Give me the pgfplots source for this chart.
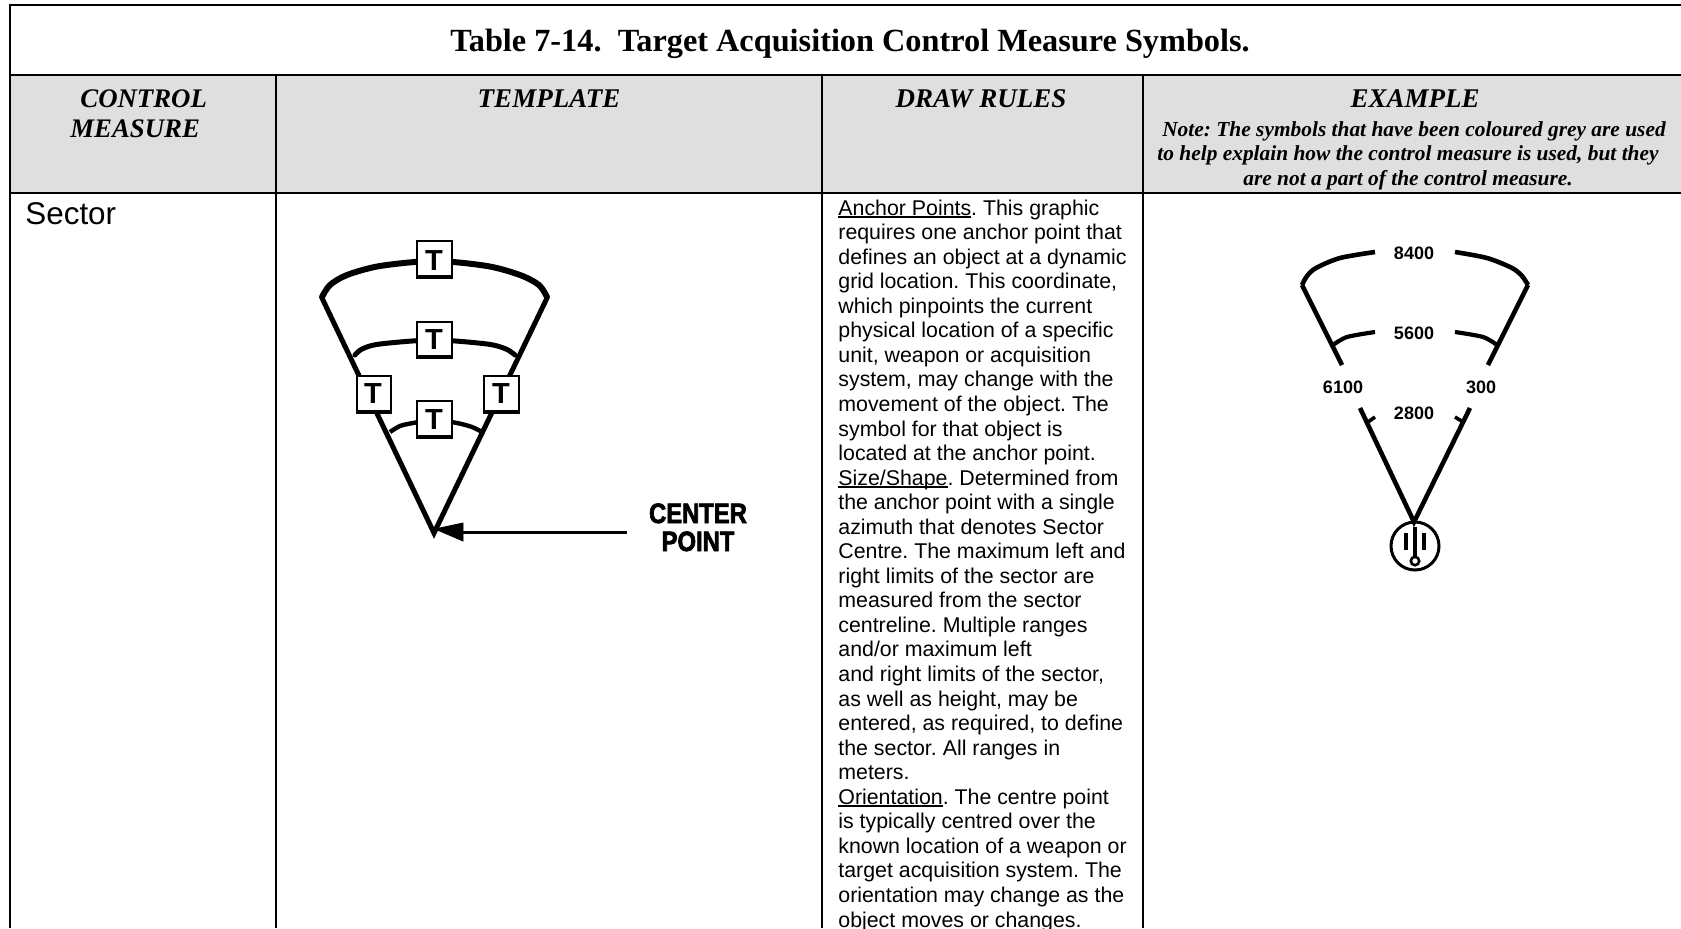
\documentclass[border=0pt]{standalone}
\usepackage{fontspec}
\usepackage{pgfplots}
\pgfplotsset{compat=1.18}
\setmainfont{Liberation Sans}
\newfontfamily\serifb[UprightFont={* Bold}]{Liberation Serif}
\newfontfamily\serifbi[UprightFont={* Bold Italic}]{Liberation Serif}
\newfontfamily\heavyf[UprightFont={* Bold},UprightFeatures={FakeBold=2.5,FakeStretch=0.85}]{Liberation Sans}
\definecolor{hdr}{HTML}{DFDFDF}
\newcommand\ul[1]{\leavevmode\setbox0\hbox{#1}\rlap{\rule[-1.3pt]{\wd0}{0.8pt}}\box0}
\pgfplotsset{
 tl/.style={black,line width=1pt,no marks,forget plot},
 s1/.style={black,line width=3pt,no marks,smooth,forget plot,line cap=round},
 s2/.style={black,line width=2.5pt,no marks,forget plot},
 s3/.style={black,line width=2.3pt,no marks,forget plot},
 tb/.style={black,line width=1.4pt,fill=white,no marks,forget plot},
 ts/.style={black,line width=2pt,no marks,forget plot},
}
\begin{document}
\frenchspacing
\begin{tikzpicture}
\path[use as bounding box,clip] (0,0) rectangle (840.5pt,464pt);
\begin{axis}[at={(0,0)},anchor=south west,width=840.5pt,height=464pt,scale only axis,
  xmin=0,xmax=1681,ymin=0,ymax=928,y dir=reverse,hide axis,enlargelimits=false,clip=false]
% header fill
\addplot[fill=hdr,draw=none,no marks,forget plot] coordinates {(10,75) (1681,75) (1681,193) (10,193)} --cycle;
% table rules
\addplot[tl] coordinates {(9,5) (1681,5)};
\addplot[tl] coordinates {(10,4) (10,928)};
\addplot[tl] coordinates {(10,75) (1681,75)};
\addplot[tl] coordinates {(10,193) (1681,193)};
\addplot[tl] coordinates {(276,75) (276,928)};
\addplot[tl] coordinates {(822,75) (822,928)};
\addplot[tl] coordinates {(1143,75) (1143,928)};
% template sector
\addplot[s1] coordinates {(322,297) (330,285) (347,275) (380,266) (434,261) (487,266) (520,275) (539,285) (547,297)};
\addplot[s2] coordinates {(322,298) (434,533) (547,298)};
\addplot[s1,line width=2.5pt] coordinates {(355,355) (362,349) (380,344) (434,340) (487,344) (506,349) (515,355)};
\addplot[s1,line width=2.2pt,line cap=butt] coordinates {(390,432) (400,426) (413,423) (434,420) (457,423) (472,427) (482,432)};
% T boxes
\addplot[tb] coordinates {(417,241) (452,241) (452,277) (417,277)} --cycle;
\addplot[ts] coordinates {(416,277) (453,277)};
\addplot[tb] coordinates {(417,322) (452,322) (452,357) (417,357)} --cycle;
\addplot[ts] coordinates {(416,357) (453,357)};
\addplot[tb] coordinates {(417,401) (452,401) (452,437) (417,437)} --cycle;
\addplot[ts] coordinates {(416,437) (453,437)};
\addplot[tb] coordinates {(357,376) (391,376) (391,412) (357,412)} --cycle;
\addplot[ts] coordinates {(356,412) (392,412)};
\addplot[tb] coordinates {(484,376) (519,376) (519,412) (484,412)} --cycle;
\addplot[ts] coordinates {(483,412) (520,412)};
\node[anchor=base,font=\bfseries\fontsize{14.5}{14.5}\selectfont] at (axis cs:434,270) {T};
\node[anchor=base,font=\bfseries\fontsize{14.5}{14.5}\selectfont] at (axis cs:434,349) {T};
\node[anchor=base,font=\bfseries\fontsize{14.5}{14.5}\selectfont] at (axis cs:434,429) {T};
\node[anchor=base,font=\bfseries\fontsize{14.5}{14.5}\selectfont] at (axis cs:373,403) {T};
\node[anchor=base,font=\bfseries\fontsize{14.5}{14.5}\selectfont] at (axis cs:501,403) {T};
% arrow
\addplot[black,line width=1.5pt,no marks,forget plot] coordinates {(627,532) (455,532)};
\addplot[fill=black,draw=black,no marks,forget plot] coordinates {(435,529) (463,523) (463,541)} --cycle;
\node[anchor=base,font=\heavyf\fontsize{14}{14}\selectfont] at (axis cs:698,523) {CENTER};
\node[anchor=base,font=\heavyf\fontsize{14}{14}\selectfont] at (axis cs:698,551) {POINT};
% example sector
\addplot[s1,line width=2.3pt,line cap=butt] coordinates {(1375,252) (1340,258) (1316,268) (1307,276) (1302,285)};
\addplot[s1,line width=2.3pt,line cap=butt] coordinates {(1455,252) (1487,258) (1512,268) (1522,276) (1528,285)};
\addplot[s3] coordinates {(1302,285) (1342,365)};
\addplot[s3] coordinates {(1528,285) (1488,365)};
\addplot[s3] coordinates {(1360,408) (1414,522) (1470,408)};
\addplot[s1,line width=2.1pt,line cap=butt] coordinates {(1333,345) (1347,337) (1375,332)};
\addplot[s1,line width=2.1pt,line cap=butt] coordinates {(1455,332) (1483,337) (1497,345)};
\addplot[s3,line width=1.8pt] coordinates {(1368,422) (1375,417)};
\addplot[s3,line width=1.8pt] coordinates {(1455,417) (1463,422)};
\addplot[black,only marks,mark=o,mark size=12pt,mark options={line width=1.5pt},forget plot] coordinates {(1415,546)};
\addplot[s3,line width=1.7pt] coordinates {(1415,527) (1415,557)};
\addplot[s3,line width=1.7pt] coordinates {(1406,533) (1406,550)};
\addplot[s3,line width=1.7pt] coordinates {(1424,533) (1424,550)};
\addplot[black,only marks,mark=o,mark size=2.1pt,mark options={line width=1.3pt},forget plot] coordinates {(1415,561)};
\node[font=\bfseries\fontsize{9}{9}\selectfont] at (axis cs:1414,253) {8400};
\node[font=\bfseries\fontsize{9}{9}\selectfont] at (axis cs:1414,333) {5600};
\node[font=\bfseries\fontsize{9}{9}\selectfont] at (axis cs:1343,387) {6100};
\node[font=\bfseries\fontsize{9}{9}\selectfont] at (axis cs:1481,387) {300};
\node[font=\bfseries\fontsize{9}{9}\selectfont] at (axis cs:1414,413) {2800};
% text
\node[anchor=base,inner sep=0pt,font=\serifb\fontsize{16.15}{16.15}\selectfont] at (axis cs:850,51) {Table 7-14.\ \ Target Acquisition Control Measure Symbols.};
\node[anchor=base west,inner sep=0pt,font=\serifbi\fontsize{13.4}{13.4}\selectfont] at (axis cs:80,107) {CONTROL};
\node[anchor=base west,inner sep=0pt,font=\serifbi\fontsize{13.4}{13.4}\selectfont] at (axis cs:70,137) {MEASURE};
\node[anchor=base,inner sep=0pt,font=\serifbi\fontsize{13.5}{13.5}\selectfont] at (axis cs:549,107) {TEMPLATE};
\node[anchor=base,inner sep=0pt,font=\serifbi\fontsize{13.5}{13.5}\selectfont] at (axis cs:981,107) {DRAW RULES};
\node[anchor=base,inner sep=0pt,font=\serifbi\fontsize{13.5}{13.5}\selectfont] at (axis cs:1415,107) {EXAMPLE};
\node[anchor=base,inner sep=0pt,font=\serifbi\fontsize{10.7}{10.7}\selectfont] at (axis cs:1414,136) {Note: The symbols that have been coloured grey are used};
\node[anchor=base,inner sep=0pt,font=\serifbi\fontsize{10.7}{10.7}\selectfont] at (axis cs:1408,160) {to help explain how the control measure is used, but they};
\node[anchor=base,inner sep=0pt,font=\serifbi\fontsize{10.7}{10.7}\selectfont] at (axis cs:1408,185) {are not a part of the control measure.};
\node[anchor=base west,inner sep=0pt,font=\fontsize{15.7}{15.7}\selectfont] at (axis cs:25,224) {Sector};
\node[anchor=base west,inner sep=0pt,align=left,font=\fontsize{10.67}{12.275}\selectfont] at (axis cs:838,927) {%
\ul{Anchor Points}. This graphic\\
requires one anchor point that\\
defines an object at a dynamic\\
grid location. This coordinate,\\
which pinpoints the current\\
physical location of a specific\\
unit, weapon or acquisition\\
system, may change with the\\
movement of the object. The\\
symbol for that object is\\
located at the anchor point.\\
\ul{Size/Shape}. Determined from\\
the anchor point with a single\\
azimuth that denotes Sector\\
Centre. The maximum left and\\
right limits of the sector are\\
measured from the sector\\
centreline. Multiple ranges\\
and/or maximum left\\
and right limits of the sector,\\
as well as height, may be\\
entered, as required, to define\\
the sector. All ranges in\\
meters.\\
\ul{Orientation}. The centre point\\
is typically centred over the\\
known location of a weapon or\\
target acquisition system. The\\
orientation may change as the\\
object moves or changes.};
\end{axis}
\end{tikzpicture}
\end{document}
